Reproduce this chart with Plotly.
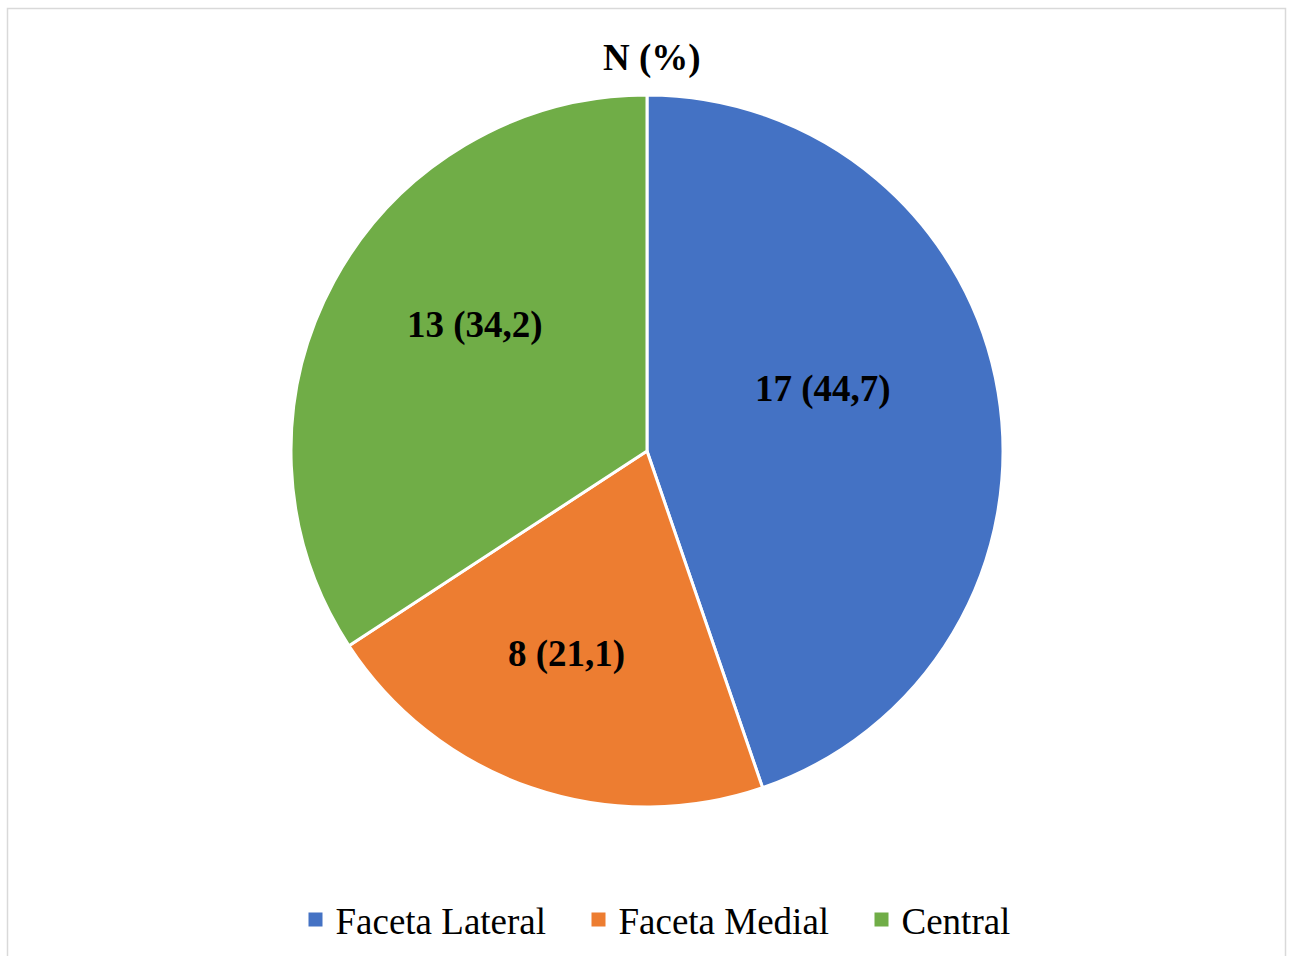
import math
import plotly.graph_objects as go

# Location of the lesion (N, %)
categories = ["Faceta Lateral", "Faceta Medial", "Central"]
counts = [17, 8, 13]
colors = ["#4472C4", "#ED7D31", "#70AD47"]
chart_title = "N (%)"

total = sum(counts)
pct_labels = [f"{c / total * 100:.1f}".replace(".", ",") for c in counts]

W, H = 1291, 956
SERIF = "Liberation Serif, Times New Roman, serif"

# pie box in pixels: center and radius
cx, cy, R = 647, 451, 356
# radial placement of each data label (fraction of radius) and lift in px
label_radius = [0.50, 0.70, 0.55]
label_lift = 33

fig = go.Figure()

fig.add_trace(
    go.Pie(
        labels=categories,
        values=counts,
        textinfo="none",
        marker=dict(colors=colors, line=dict(color="white", width=3)),
        sort=False,
        direction="clockwise",
        rotation=0,
        showlegend=False,
        hoverinfo="label+value",
        domain=dict(
            x=[(cx - R) / W, (cx + R) / W],
            y=[1 - (cy + R) / H, 1 - (cy - R) / H],
        ),
    )
)

# legend entries with square swatches
for name, col in zip(categories, colors):
    fig.add_trace(
        go.Scatter(
            x=[None],
            y=[None],
            mode="markers",
            name=name,
            marker=dict(symbol="square", size=14, color=col),
            hoverinfo="skip",
        )
    )

# data labels "N (%)" placed at each slice's mid-angle
annotations = []
cum = 0
for cnt, pct, rf in zip(counts, pct_labels, label_radius):
    mid = (cum + cnt / 2) / total * 2 * math.pi
    cum += cnt
    px = cx + rf * R * math.sin(mid)
    py = cy - rf * R * math.cos(mid) - label_lift
    annotations.append(
        dict(
            text=f"{cnt} ({pct})",
            x=px / W,
            y=1 - py / H,
            xref="paper",
            yref="paper",
            xanchor="center",
            yanchor="middle",
            showarrow=False,
            font=dict(family=SERIF, size=37, color="black", weight="bold"),
        )
    )

annotations.append(
    dict(
        text=chart_title,
        x=652 / W,
        y=1 - 58 / H,
        xref="paper",
        yref="paper",
        xanchor="center",
        yanchor="middle",
        showarrow=False,
        font=dict(family=SERIF, size=37, color="black", weight="bold"),
    )
)

fig.update_layout(
    width=W,
    height=H,
    margin=dict(l=0, r=0, t=0, b=0),
    paper_bgcolor="white",
    plot_bgcolor="white",
    font=dict(family=SERIF, color="black"),
    xaxis=dict(visible=False),
    yaxis=dict(visible=False),
    showlegend=True,
    legend=dict(
        orientation="h",
        x=720 / W,
        xanchor="center",
        y=1 - 920 / H,
        yanchor="middle",
        font=dict(family=SERIF, size=37, color="black"),
        entrywidth=238,
        itemclick=False,
        bgcolor="rgba(0,0,0,0)",
    ),
    annotations=annotations,
    shapes=[
        dict(
            type="rect",
            xref="paper",
            yref="paper",
            x0=7.5 / W,
            x1=1285.5 / W,
            y0=-0.05,
            y1=1 - 8.5 / H,
            line=dict(color="#D9D9D9", width=1.5),
            fillcolor="rgba(0,0,0,0)",
            layer="below",
        )
    ],
)

fig.write_html("out.html")
